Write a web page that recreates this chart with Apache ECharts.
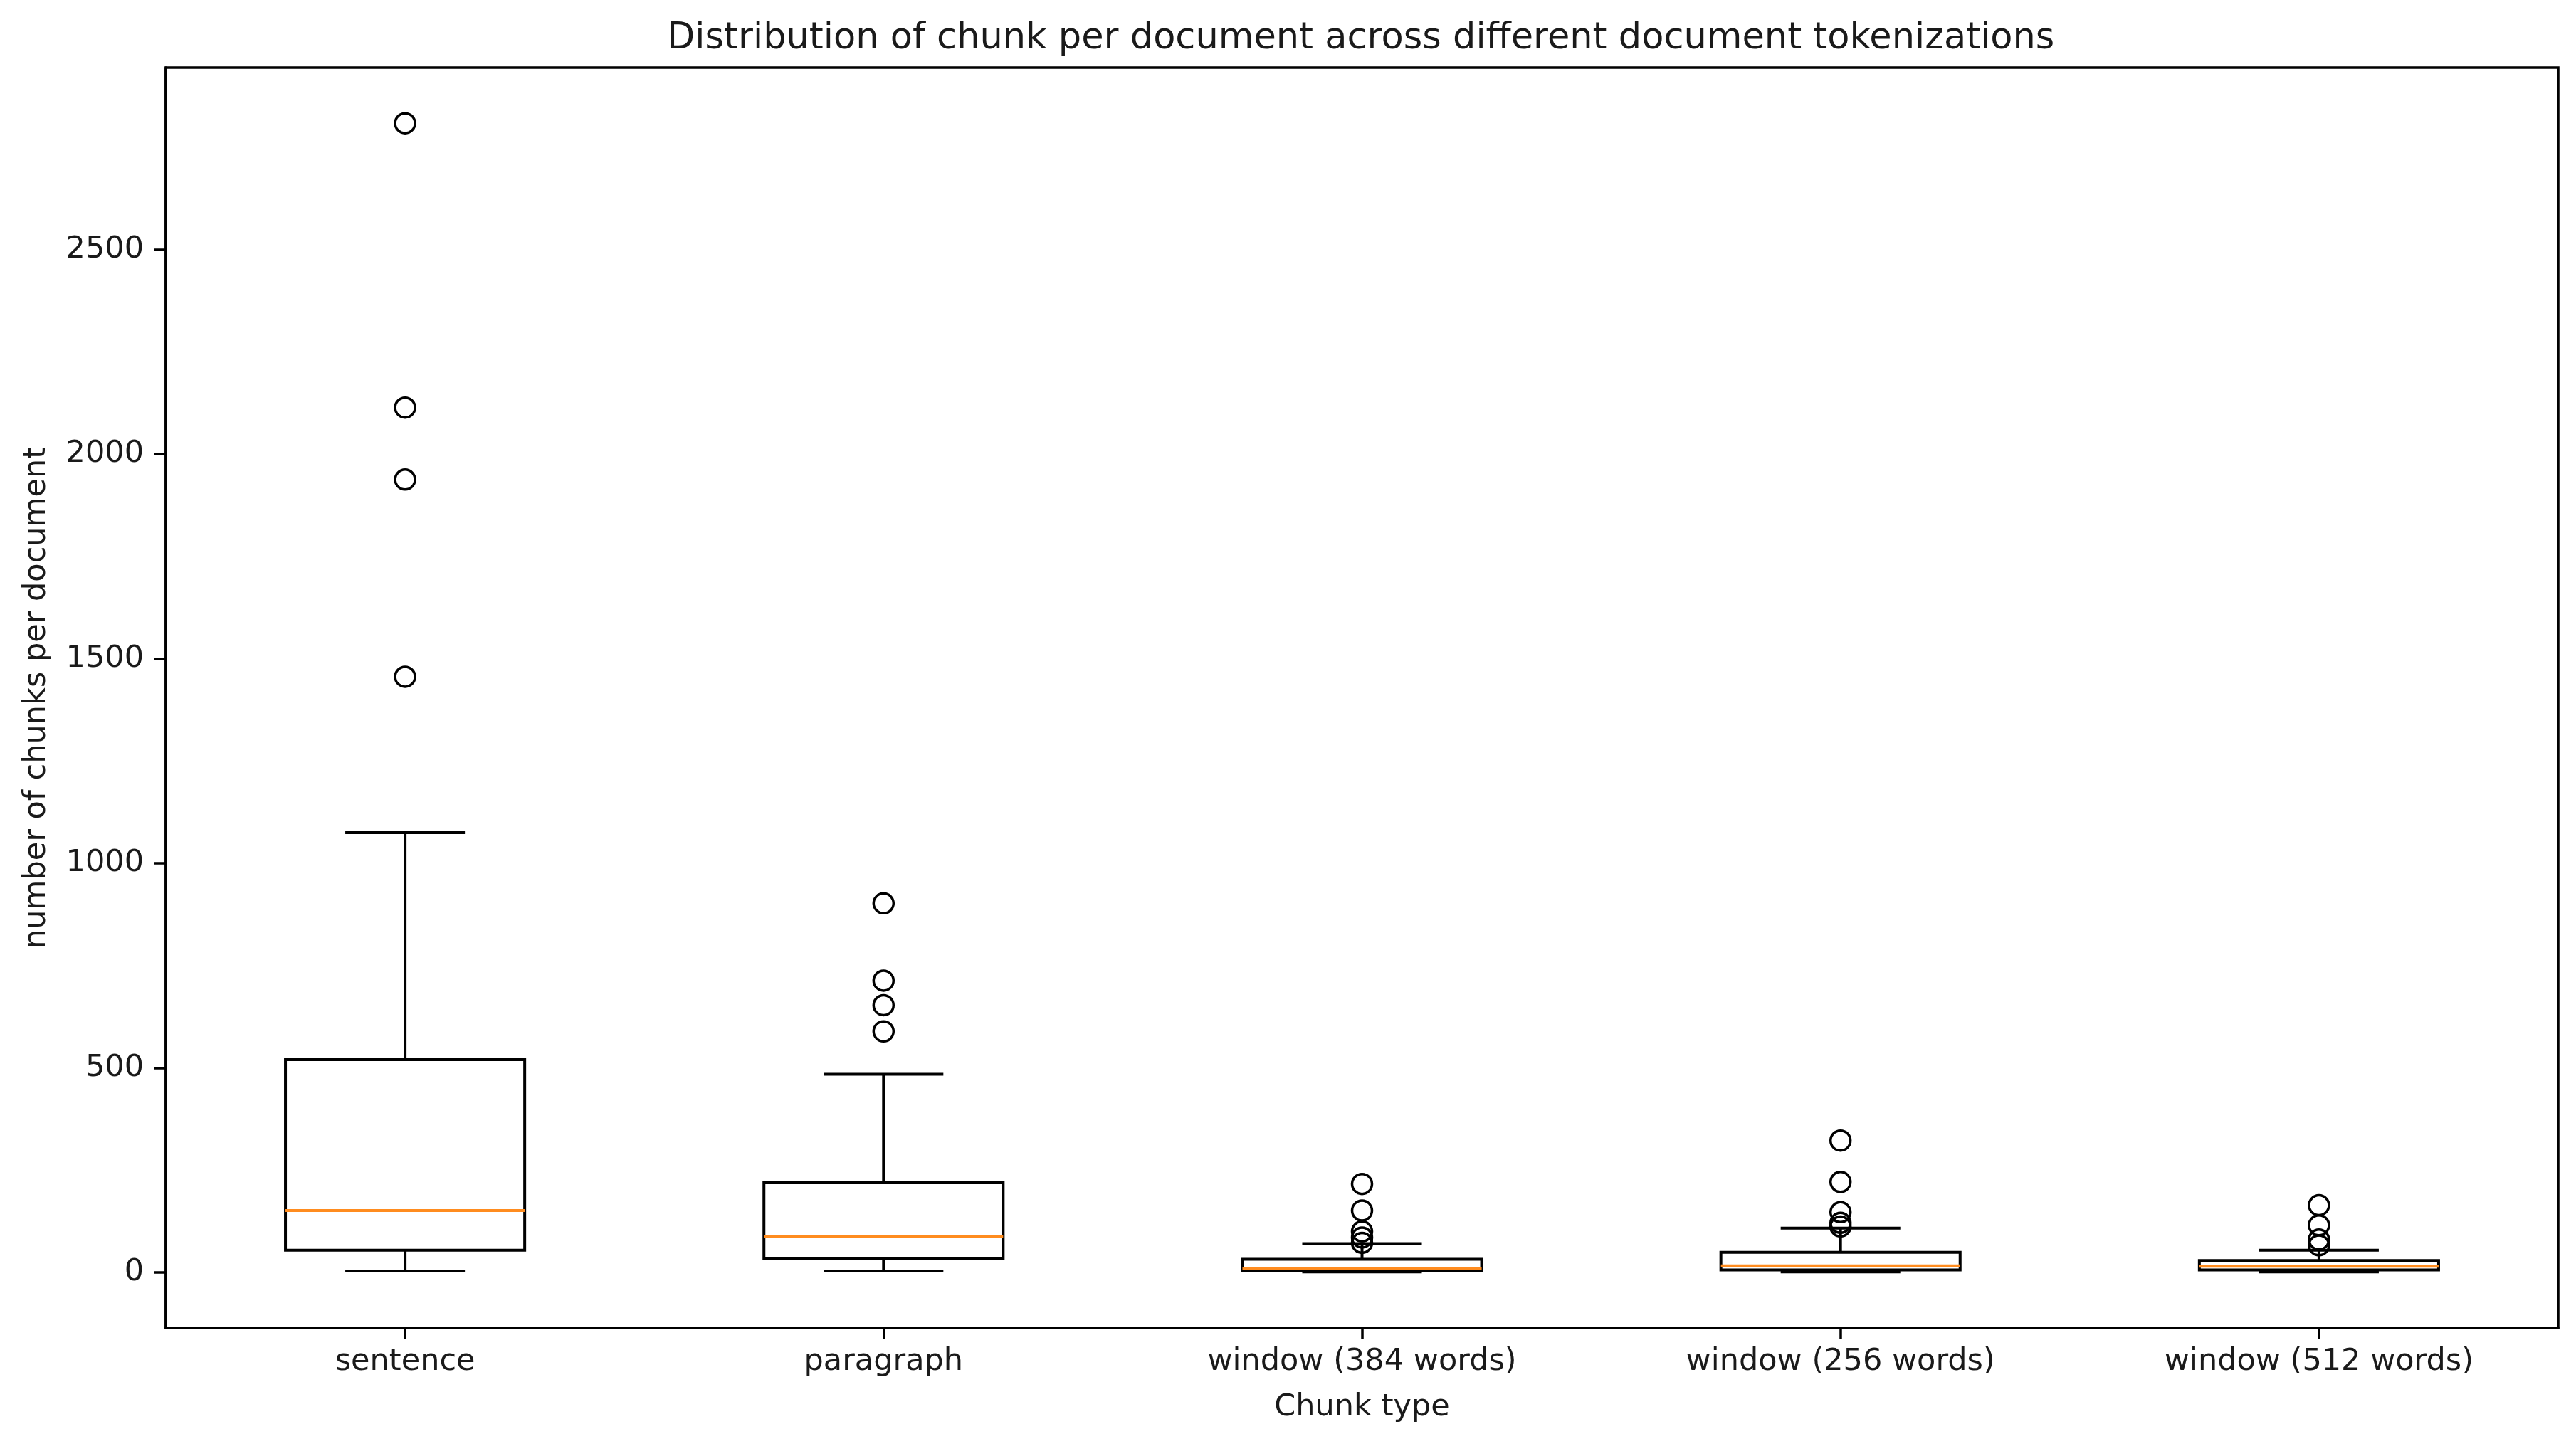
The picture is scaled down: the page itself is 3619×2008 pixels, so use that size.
<!DOCTYPE html>
<html>
<head>
<meta charset="utf-8">
<script src="https://cdn.jsdelivr.net/npm/echarts@6/dist/echarts.min.js"></script>
<style>
html,body{margin:0;padding:0;background:#fff;overflow:hidden;}
#chart{width:3619px;height:2008px;}
</style>
</head>
<body>
<div id="chart"></div>
<script>
// ---- data ----
const categories = ['sentence', 'paragraph', 'window (384 words)', 'window (256 words)', 'window (512 words)'];
const lowWhisker  = [3, 3, 1, 1, 1];
const q1          = [54, 34, 4, 6, 6];
const median      = [151, 87, 10, 16, 15];
const q3          = [520, 219, 32, 49, 29];
const highWhisker = [1075, 484, 70, 108, 54];
const outliersSentence  = [2809, 2114, 1938, 1456];
const outliersParagraph = [902, 713, 653, 589];
const outliersWin384    = [216, 151, 100, 85, 72];
const outliersWin256    = [322, 221, 147, 121, 112];
const outliersWin512    = [164, 115, 80, 66];
const yTickValues = [0, 500, 1000, 1500, 2000, 2500];

const outlierLists = [outliersSentence, outliersParagraph, outliersWin384, outliersWin256, outliersWin512];
const boxData = categories.map((c, i) => [i, lowWhisker[i], q1[i], median[i], q3[i], highWhisker[i]]);
const outlierData = [];
outlierLists.forEach((list, i) => list.forEach(v => outlierData.push([i, v])));

const FONT = 'DejaVu Sans';
const TXT = '#1a1a1a';
const LW = 4;

function renderBox(params, api) {
  const idx = api.value(0);
  const pLow = api.coord([idx, api.value(1)]);
  const pQ1 = api.coord([idx, api.value(2)]);
  const pMed = api.coord([idx, api.value(3)]);
  const pQ3 = api.coord([idx, api.value(4)]);
  const pHigh = api.coord([idx, api.value(5)]);
  const bw = api.size([1, 0])[0] * 0.5;
  const cw = bw * 0.5;
  const x = pMed[0];
  const stroke = {stroke: '#000', lineWidth: LW, fill: null};
  return {
    type: 'group',
    children: [
      {type: 'line', shape: {x1: x, y1: pQ3[1], x2: x, y2: pHigh[1]}, style: stroke},
      {type: 'line', shape: {x1: x, y1: pQ1[1], x2: x, y2: pLow[1]}, style: stroke},
      {type: 'line', shape: {x1: x - cw / 2, y1: pHigh[1], x2: x + cw / 2, y2: pHigh[1]}, style: stroke},
      {type: 'line', shape: {x1: x - cw / 2, y1: pLow[1], x2: x + cw / 2, y2: pLow[1]}, style: stroke},
      {type: 'rect', shape: {x: x - bw / 2, y: pQ3[1], width: bw, height: pQ1[1] - pQ3[1]}, style: {stroke: '#000', lineWidth: LW, fill: 'rgba(0,0,0,0)'}},
      {type: 'line', shape: {x1: x - bw / 2, y1: pMed[1], x2: x + bw / 2, y2: pMed[1]}, style: {stroke: '#ff8c1f', lineWidth: LW}}
    ]
  };
}

const chart = echarts.init(document.getElementById('chart'), null, {renderer: 'canvas'});
chart.setOption({
  backgroundColor: '#fff',
  animation: false,
  title: {
    text: 'Distribution of chunk per document across different document tokenizations',
    left: 932, top: 24,
    textStyle: {fontFamily: FONT, fontSize: 51, fontWeight: 'normal', color: TXT}
  },
  grid: {
    left: 233, top: 95, width: 3361, height: 1771,
    containLabel: false,
    outerBoundsMode: 'none',
    show: true, borderColor: '#000', borderWidth: 3.5, backgroundColor: 'transparent'
  },
  xAxis: {
    type: 'category',
    data: categories,
    boundaryGap: true,
    name: 'Chunk type',
    nameLocation: 'middle',
    nameGap: 90,
    nameTextStyle: {fontFamily: FONT, fontSize: 43, color: TXT},
    axisLine: {show: true, onZero: false, lineStyle: {color: '#000', width: 3.5}},
    axisTick: {show: true, alignWithLabel: true, length: 16, lineStyle: {color: '#000', width: 3.5}},
    axisLabel: {fontFamily: FONT, fontSize: 43, color: TXT, margin: 26},
    splitLine: {show: false}
  },
  yAxis: {
    type: 'value',
    min: -136,
    max: 2945,
    name: 'number of chunks per document',
    nameLocation: 'middle',
    nameGap: 160,
    nameRotate: 90,
    nameTextStyle: {fontFamily: FONT, fontSize: 43, color: TXT},
    axisLine: {show: true, onZero: false, lineStyle: {color: '#000', width: 3.5}},
    axisTick: {show: true, length: 16, lineStyle: {color: '#000', width: 3.5}, customValues: yTickValues},
    axisLabel: {fontFamily: FONT, fontSize: 43, color: TXT, margin: 31, customValues: yTickValues,
      formatter: v => String(v)},
    splitLine: {show: false}
  },
  series: [
    {
      type: 'custom',
      renderItem: renderBox,
      encode: {x: 0, y: [1, 2, 3, 4, 5]},
      data: boxData,
      z: 2
    },
    {
      type: 'scatter',
      data: outlierData,
      symbol: 'circle',
      symbolSize: 28,
      itemStyle: {color: 'rgba(0,0,0,0)', borderColor: '#000', borderWidth: 3.5, opacity: 1},
      z: 3
    }
  ]
});
</script>
</body>
</html>
